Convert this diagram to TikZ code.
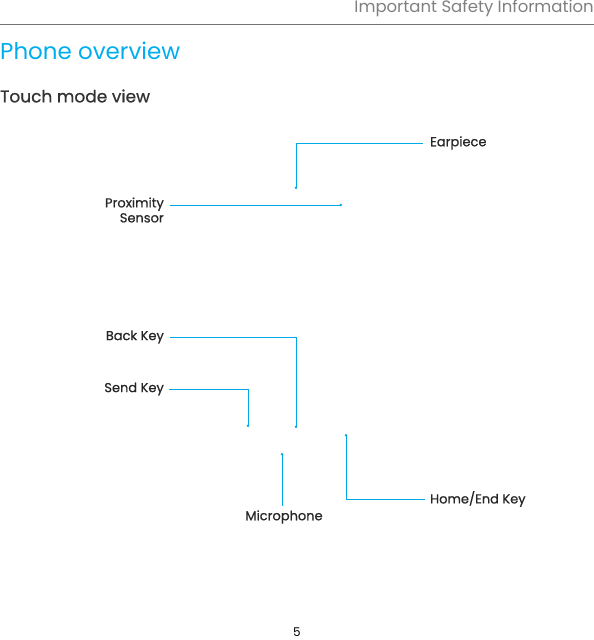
\documentclass[tikz,border=0pt]{standalone}
\usepackage{fontspec}
\setmainfont{Poppins}
\newfontfamily\labelfont[FakeBold=0.7]{Poppins}
\usetikzlibrary{arrows.meta}
\definecolor{callout}{HTML}{00A9E6}
\definecolor{heading}{HTML}{00AEEF}
\newcommand{\tipsize}{2.4pt}

\begin{document}
\begin{tikzpicture}[x=1pt,y=-1pt,
    lbl/.style={inner sep=0pt, font=\labelfont\fontsize{13}{15}\selectfont, text=black!85},
    lead/.style={callout, line width=1pt, -{Circle[length=\tipsize]}}]
      \useasboundingbox (0,0) rectangle (594,640);
          %%  page head %%
      \node (head) at (594,8) [anchor=east, inner sep=0pt, text=black!50,
        font=\fontsize{16.5}{18}\selectfont] {Important Safety Information};
      \draw[black!55, line width=.8pt] (0,24) -- (594,24);
      \node (title) at (0,51) [anchor=west, inner sep=0pt, text=heading,
        font=\fontsize{23}{26}\selectfont] {Phone overview};
      \node (sub) at (0,96) [anchor=west, inner sep=0pt, text=black!80,
        font=\labelfont\fontsize{17}{20}\selectfont] {Touch mode view};

          %%  callouts %%
      \node (ear) at (430,143) [lbl, anchor=west] {Earpiece};
      \node (prox) at (164,210) [lbl, anchor=east, align=right] {Proximity\\Sensor};
      \node (back) at (164,337) [lbl, anchor=east] {Back Key};
      \node (send) at (164,389) [lbl, anchor=east] {Send Key};
      \node (mic) at (284,517) [lbl] {Microphone};
      \node (home) at (430,499) [lbl, anchor=west] {Home/End Key};

      \coordinate (earpt) at (296,189);
      \coordinate (proxpt) at (342,205);
      \coordinate (backpt) at (296,428);
      \coordinate (sendpt) at (248,427);
      \coordinate (micpt) at (282,453);
      \coordinate (homept) at (346,434);

      \draw[lead] ([xshift=-7pt]ear.west) -| (earpt);
      \draw[lead] (prox.east |- proxpt) ++(6,0) -- (proxpt);
      \draw[lead] ([xshift=6pt]back.east) -| (backpt);
      \draw[lead] ([xshift=5pt]send.east) -| (sendpt);
      \draw[lead] (micpt |- mic.north) ++(0,-4) -- (micpt);
      \draw[lead] ([xshift=-5pt]home.west) -| (homept);

      \draw (297,632) node [inner sep=0pt, font=\fontsize{12}{14}\selectfont] (page) {5};
        \end{tikzpicture}
\end{document}
